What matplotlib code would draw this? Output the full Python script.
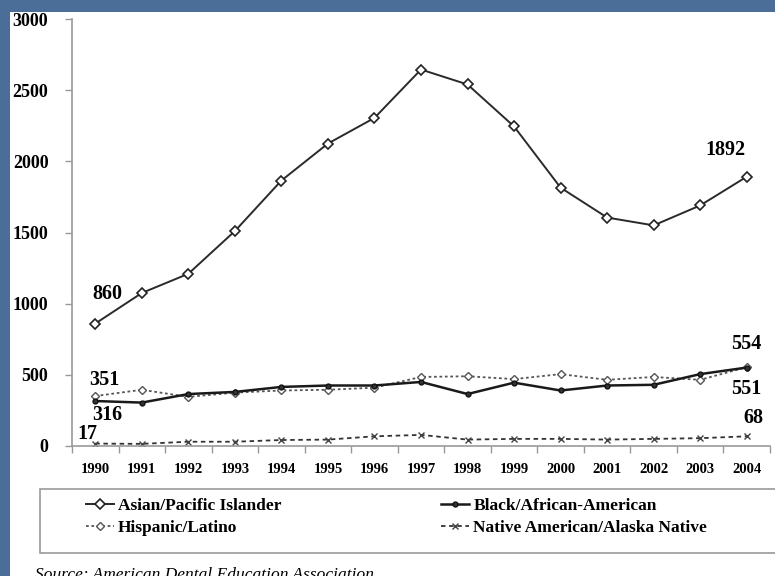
import matplotlib.pyplot as plt
from matplotlib.patches import Rectangle
from matplotlib.ticker import FixedLocator

# --- data ---
years = list(range(1990, 2005))

asian    = [860, 1075, 1210, 1510, 1865, 2125, 2305, 2645, 2540, 2245, 1815, 1605, 1550, 1690, 1892]
black    = [316, 305, 365, 380, 415, 425, 425, 450, 365, 445, 390, 425, 430, 505, 551]
hispanic = [351, 395, 345, 375, 390, 395, 410, 485, 490, 470, 505, 465, 485, 465, 554]
native   = [17, 15, 30, 30, 42, 45, 68, 78, 45, 50, 50, 45, 50, 55, 68]

plt.rcParams['font.family'] = 'Liberation Serif'
plt.rcParams['font.weight'] = 'bold'

fig = plt.figure(figsize=(7.75, 5.76), dpi=100)
fig.patch.set_facecolor('#4a6e98')
# white slide area behind everything
fig.patches.append(Rectangle((10 / 775, 0), 1, 1 - 12 / 576, transform=fig.transFigure,
                             facecolor='white', edgecolor='none', zorder=-10))
# legend box
fig.patches.append(Rectangle((40 / 775, 1 - 553 / 576), 800 / 775, 64 / 576, transform=fig.transFigure,
                             facecolor='white', edgecolor='#999999', lw=1.2, zorder=-5))

ax = fig.add_axes([72 / 775, 1 - 446 / 576, 698 / 775, 427 / 576])
ax.set_facecolor('none')
ax.set_zorder(1)

ax.plot(years, asian, color='#2a2a2a', lw=1.4, marker='D', ms=5, mfc='white', mec='#222222',
        mew=1.2, label='Asian/Pacific Islander', zorder=4)
ax.plot(years, black, color='#1a1a1a', lw=1.8, marker='o', ms=3.5, mfc='#333333', mec='#111111',
        label='Black/African-American', zorder=3)
ax.plot(years, hispanic, color='#555555', lw=1.3, ls=(0, (1.5, 1.5)), marker='D', ms=4.5,
        mfc='white', mec='#555555', label='Hispanic/Latino', zorder=2)
ax.plot(years, native, color='#333333', lw=1.3, ls=(0, (2.5, 2)), marker='x', ms=4.5,
        mec='#444444', label='Native American/Alaska Native', zorder=2)

ax.set_xlim(1989.5, 2004.5)
ax.set_ylim(0, 3000)
ax.set_yticks([0, 500, 1000, 1500, 2000, 2500, 3000])
ax.set_xticks(years)
ax.xaxis.set_minor_locator(FixedLocator([y + 0.5 for y in range(1989, 2005)]))
ax.tick_params(axis='x', which='major', length=0, pad=12, labelsize=10.5)
ax.tick_params(axis='x', which='minor', length=5, color='#999999', width=1)
ax.tick_params(axis='y', length=5, color='#999999', width=1, pad=12, labelsize=13)
for lab in ax.get_xticklabels() + ax.get_yticklabels():
    lab.set_fontweight('bold')

for s in ['top', 'right']:
    ax.spines[s].set_visible(False)
for s in ['left', 'bottom']:
    ax.spines[s].set_color('#999999')
    ax.spines[s].set_linewidth(1.2)

# end-point labels
fs = 14.5
ax.text(1990.25, 1070, '860', fontsize=fs, fontweight='bold', ha='center', va='center')
ax.text(2003.55, 2080, '1892', fontsize=fs, fontweight='bold', ha='center', va='center')
ax.text(1990.2, 464, '351', fontsize=fs, fontweight='bold', ha='center', va='center')
ax.text(1990.25, 221, '316', fontsize=fs, fontweight='bold', ha='center', va='center')
ax.text(1989.83, 86, '17', fontsize=fs, fontweight='bold', ha='center', va='center')
ax.text(2004.0, 714, '554', fontsize=fs, fontweight='bold', ha='center', va='center')
ax.text(2004.0, 400, '551', fontsize=fs, fontweight='bold', ha='center', va='center')
ax.text(2004.15, 200, '68', fontsize=fs, fontweight='bold', ha='center', va='center')

handles, labels = ax.get_legend_handles_labels()
order = [0, 2, 1, 3]
leg = fig.legend([handles[i] for i in order], [labels[i] for i in order], ncol=2,
                 loc='upper left', bbox_to_anchor=(72 / 775, 1 - 484 / 576),
                 frameon=False, handlelength=1.6, handletextpad=0.25,
                 columnspacing=9.2, borderpad=0.3, labelspacing=0.35,
                 prop={'family': 'Liberation Serif', 'weight': 'bold', 'size': 12.5})

fig.text(35 / 775, 1 - 575 / 576, 'Source: American Dental Education Association',
         fontsize=12.5, style='italic', fontweight='normal', va='center', ha='left')

fig.savefig('out.png', dpi=100, facecolor=fig.get_facecolor())
